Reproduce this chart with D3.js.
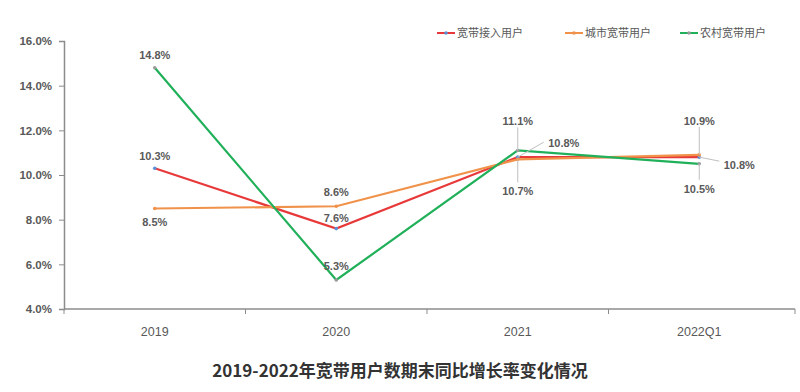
<!DOCTYPE html>
<html><head><meta charset="utf-8">
<script src="https://cdn.jsdelivr.net/npm/d3@7"></script>
<style>body{margin:0;background:#fff;font-family:"Noto Sans CJK SC","DejaVu Sans",sans-serif;}</style>
</head><body><svg id="c" width="800" height="392"></svg>
<script>
const categories = ["2019","2020","2021","2022Q1"];
const broadband = [10.3, 7.6, 10.8, 10.8];
const urban = [8.5, 8.6, 10.7, 10.9];
const rural = [14.8, 5.3, 11.1, 10.5];
const yTicks = [4,6,8,10,12,14,16];
const seriesNames = ["宽带接入用户","城市宽带用户","农村宽带用户"];
const title = "2019-2022年宽带用户数期末同比增长率变化情况";

(function(){
const svg = d3.select("#c");
const mL = 64, mR = 790, mT = 41, mB = 309;
const x = d3.scaleBand().domain(categories).range([mL, mR]).paddingInner(0).paddingOuter(0);
const y = d3.scaleLinear().domain([4,16]).range([mB, mT]);
const cx = c => x(c) + x.bandwidth()/2;

const yAxis = d3.axisLeft(y).tickValues(yTicks).tickSize(5).tickFormat(d => d.toFixed(1)+"%");
const gy = svg.append("g").attr("transform",`translate(${mL},0)`).call(yAxis);
gy.select(".domain").attr("stroke","#8c8c8c").attr("stroke-width",1.5);
gy.selectAll(".tick line").attr("stroke","#8c8c8c");
gy.selectAll(".tick text").attr("fill","#595959").attr("font-size",11.5).attr("font-weight","bold")
  .attr("font-family","Liberation Sans, Arial, sans-serif").attr("x",-12);

const xAxis = d3.axisBottom(x).tickSize(0).tickSizeOuter(0);
const gx = svg.append("g").attr("transform",`translate(0,${mB})`).call(xAxis);
gx.select(".domain").remove();
gx.append("line").attr("x1",mL).attr("x2",795).attr("stroke","#8c8c8c").attr("stroke-width",1.5);
gx.selectAll(".tick text").attr("fill","#595959").attr("font-size",12.5)
  .attr("font-family","Liberation Sans, Arial, sans-serif").attr("dy","1.9em");
const bounds = categories.map(c => x(c)).concat([795]);
gx.selectAll(".bt").data(bounds).enter().append("line")
  .attr("x1",d=>d).attr("x2",d=>d).attr("y1",0).attr("y2",5).attr("stroke","#8c8c8c");

const colors = ["#e8393a","#f0924a","#21b05a"];
const markerColors = ["#5b8fd6","#f0924a","#9a9a9a"];
const data = [broadband, urban, rural];
const line = d3.line().x((d,i)=>cx(categories[i])).y(d=>y(d));
data.forEach((s,k)=>{
  svg.append("path").datum(s).attr("d",line).attr("fill","none")
    .attr("stroke",colors[k]).attr("stroke-width",2.2);
});
data.forEach((s,k)=>{
  svg.selectAll(".m"+k).data(s).enter().append("circle")
    .attr("cx",(d,i)=>cx(categories[i])).attr("cy",d=>y(d)).attr("r",1.8)
    .attr("fill",markerColors[k]);
});

const labelSpec = [
  [2,0,0,-13,false],[0,0,0,-12,false],[1,0,0,14,false],
  [1,1,0,-14,false],[0,1,0,-10,false],[2,1,0,-14,false],
  [2,2,0,-29,true],[0,2,46,-14,true],[1,2,0,32,true],
  [1,3,0,-34,true],[0,3,40,8,true],[2,3,0,25,true]
];
const lg = svg.append("g");
labelSpec.forEach(([k,i,dx,dy,lead])=>{
  const px = cx(categories[i]), py = y(data[k][i]);
  if(lead){
    const lx = px+dx, ly = py+dy;
    let ex = lx, ey = ly + (dy<0?6:-9);
    if(dx>0){ ex = lx-20; ey = ly + (dy<0?-1:-4); }
    lg.append("line").attr("x1",px).attr("y1",py).attr("x2",ex).attr("y2",ey)
      .attr("stroke","#bfbfbf").attr("stroke-width",1);
  }
  lg.append("text").attr("x",px+dx).attr("y",py+dy).attr("dy","0.35em")
    .attr("text-anchor","middle").attr("fill","#595959").attr("font-size",11)
    .attr("font-weight","bold").attr("font-family","Liberation Sans, Arial, sans-serif")
    .text(data[k][i].toFixed(1)+"%");
});

const legX = [437,565,680];
const leg = svg.append("g");
seriesNames.forEach((n,k)=>{
  const g = leg.append("g").attr("transform",`translate(${legX[k]},33)`);
  g.append("line").attr("x1",0).attr("x2",18).attr("stroke",colors[k]).attr("stroke-width",2);
  g.append("circle").attr("cx",9).attr("r",1.8).attr("fill",markerColors[k]);
  g.append("text").attr("x",20).attr("dy","0.35em").attr("font-size",11).attr("fill","#595959").text(n);
});

svg.append("text").attr("x",400).attr("y",377).attr("text-anchor","middle")
  .attr("font-size",17).attr("font-weight","bold").attr("fill","#333").text(title);
})();
</script></body></html>
